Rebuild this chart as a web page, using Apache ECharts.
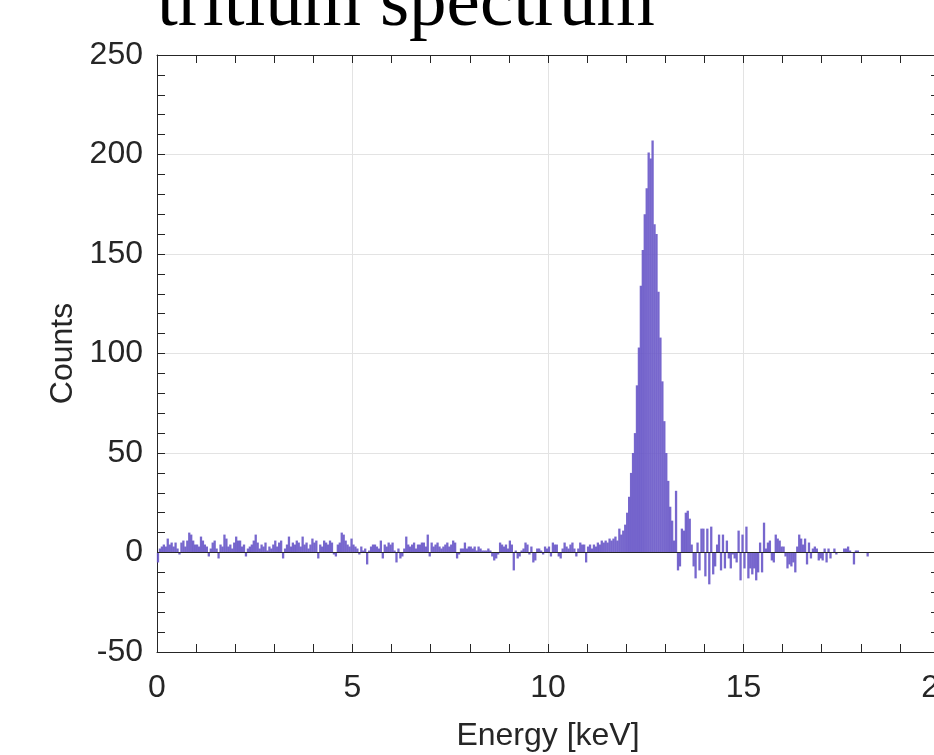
<!DOCTYPE html>
<html>
<head>
<meta charset="utf-8">
<script src="https://cdn.jsdelivr.net/npm/echarts@6/dist/echarts.min.js"></script>
<style>
  html, body { margin: 0; padding: 0; background: #fff; }
  #chart1 { width: 934px; height: 755px; }
</style>
</head>
<body>
<div id="chart1"></div>
<script>
// histogram bins: 0.05 keV wide, first bin centre at 0.025 keV
var binStart = 0.025;
var binWidth = 0.05;

// counts per bin, one row = 1 keV (20 bins)
var counts = [].concat(
  [-5, 2, 3, 4, 3, 7, 4, 5, 3, 5, 2, -1, 5, 6, 3, 6, 10, 9, 6, 4],
  [4, 3, 8, 6, 4, 3, -2, 2, 5, 6, 2, -3, 4, 3, 9, 7, 3, 4, 2, 5],
  [8, 6, 6, 3, 4, -2, 2, 3, 4, 6, 9, 5, 2, 4, 3, 5, 1, 3, 2, 4],
  [6, 3, 5, 6, -3, 2, 4, 8, 3, 5, 4, 6, 5, 3, 8, 4, 5, 2, 4, 7],
  [5, 6, -3, 4, 3, 6, 5, 4, 6, 5, -1, -2, 4, 5, 10, 9, 6, 4, 3, 7],
  [4, 3, 2, -1, 3, 1, 2, -6, 1, 3, 4, 4, 3, 2, 6, -3, 4, 3, 5, 4],
  [5, 1, -5, 2, -3, -2, 2, 8, 4, 3, 4, 5, 2, 4, 4, 5, 5, 3, 9, -2],
  [5, 3, 4, 5, 3, 2, 3, 4, 5, 3, 4, 6, 5, -3, -1, 2, 2, 5, 2, 3],
  [3, 2, 3, 1, 3, 2, 1, 1, 1, 2, 1, -2, -4, -3, -1, 5, 4, 3, 4, 2],
  [6, 4, -9, 1, -3, -2, 1, 2, 5, 4, -1, 3, -5, -4, 2, 2, 1, -1, 3, 2],
  [3, -2, 5, 4, 4, -2, -3, 2, 5, 3, 2, 4, 5, 2, -2, 2, 5, 4, 4, -5],
  [3, 4, 2, 4, 3, 5, 4, 6, 5, 6, 5, 7, 6, 7, 8, 6, 12, 9, 11, 14],
  [20, 28, 40, 50, 60, 84, 103, 134, 152, 170, 183, 201, 198, 207, 165, 160, 131, 108, 86, 66],
  [50, 36, 23, 16, 6, 31, -9, -7, 12, 11, 20, 21, 17, 4, -7, -13, 5, -9, 12, 12],
  [-12, 12, -16, 13, -11, -7, 4, 9, -9, 9, -8, 6, -3, -8, -1, -3, -5, 11, -14, 9],
  [-8, 13, -13, -8, -11, -8, -14, -10, 5, -10, 15, 2, 5, 6, -4, -5, 9, 7, 6, 3],
  [3, -2, -8, -6, -7, -5, -10, 3, 9, 7, 4, 7, -6, 5, -3, 2, 3, 2, -4, -3],
  [-4, 2, -5, 2, -3, 0, 2, -1, 0, 0, 0, 2, 2, 3, 1, 0, -6, 1, 1, 0],
  [0, 0, 0, -2]
);

var xTicks = [0, 5, 10, 15, 20];
var yTicks = [-50, 0, 50, 100, 150, 200, 250];

var barData = counts.map(function (c, i) {
  return [binStart + i * binWidth, c];
});

var axisColor = "#262626";
var labelFont = "Liberation Sans";

function boxAxis(pos, showLabel, ticks, margin) {
  return {
    type: "value",
    position: pos,
    min: ticks[0],
    max: ticks[ticks.length - 1],
    interval: ticks[1] - ticks[0],
    axisLine: { show: true, onZero: false, lineStyle: { color: axisColor, width: 1 } },
    axisTick: { show: true, inside: true, length: 8, lineStyle: { color: axisColor } },
    minorTick: { show: true, splitNumber: 5, length: 8, lineStyle: { color: axisColor } },
    splitLine: { show: showLabel, lineStyle: { color: "#e3e3e3", width: 1 } },
    axisLabel: {
      show: showLabel,
      fontSize: 32,
      color: axisColor,
      fontFamily: labelFont,
      margin: margin,
    },
  };
}

var chart_chart1 = echarts.init(document.getElementById("chart1"), null, {
  renderer: "canvas",
});

var xBottom = boxAxis("bottom", true, xTicks, 20);
xBottom.name = "Energy [keV]";
xBottom.nameLocation = "middle";
xBottom.nameGap = 68;
xBottom.nameTextStyle = { fontSize: 32, color: axisColor, fontFamily: labelFont };

var yLeft = boxAxis("left", true, yTicks, 14);
yLeft.name = "Counts";
yLeft.nameLocation = "middle";
yLeft.nameGap = 77;
yLeft.nameTextStyle = { fontSize: 32, color: axisColor, fontFamily: labelFont };

var option_chart1 = {
  animation: false,
  title: {
    text: "tritium spectrum",
    left: 152,
    top: -37,
    textStyle: {
      fontFamily: "Liberation Serif",
      fontSize: 75,
      fontWeight: "normal",
      color: "#000",
    },
  },
  grid: {
    left: 157,
    top: 55,
    width: 782,
    height: 597,
    containLabel: false,
    outerBoundsMode: "none",
  },
  xAxis: [xBottom, boxAxis("top", false, xTicks, 8)],
  yAxis: [yLeft, boxAxis("right", false, yTicks, 8)],
  series: [
    {
      type: "bar",
      name: "Counts",
      xAxisIndex: 0,
      yAxisIndex: 0,
      data: barData,
      barWidth: 2.3,
      itemStyle: { color: "#6856c8", opacity: 0.9 },
      markLine: {
        silent: true,
        symbol: "none",
        label: { show: false },
        lineStyle: { color: axisColor, width: 1, type: "solid" },
        data: [{ yAxis: 0 }],
      },
    },
  ],
};
chart_chart1.setOption(option_chart1);
</script>
</body>
</html>
